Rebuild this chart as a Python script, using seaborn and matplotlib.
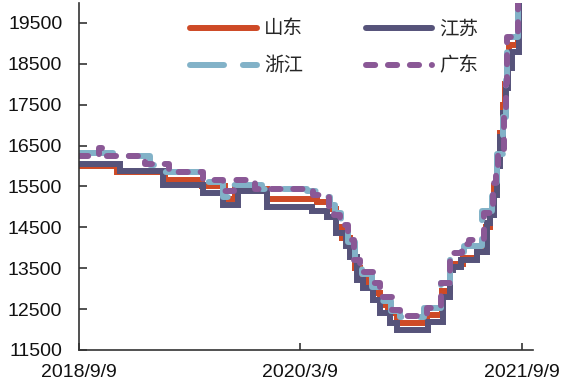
import matplotlib
matplotlib.use("Agg")
import matplotlib.pyplot as plt
import pandas as pd
import seaborn as sns

# ---- data (step breakpoints: value holds from date until next date) ----
sd_dates = ["2018-09-09", "2018-12-12", "2019-04-10", "2019-07-10", "2019-09-05", "2019-10-01",
            "2019-12-18", "2020-04-20", "2020-05-22", "2020-06-05", "2020-06-20", "2020-07-10",
            "2020-07-23", "2020-08-05", "2020-08-20", "2020-09-05", "2020-09-23", "2020-10-12",
            "2020-11-04", "2021-01-17", "2021-02-23", "2021-03-15", "2021-04-16", "2021-05-21",
            "2021-06-05", "2021-06-12", "2021-06-22", "2021-07-01", "2021-07-09", "2021-07-17",
            "2021-07-24", "2021-07-29", "2021-08-03", "2021-08-08", "2021-08-30"]
sd_vals = [16000, 15850, 15650, 15500, 15200, 15450,
           15200, 15130, 14950, 14500, 14250, 13900,
           13500, 13350, 13150, 12900, 12600, 12400,
           12150, 12350, 12950, 13600, 13750, 13900,
           14100, 14500, 14900, 15500, 16200, 16800,
           17500, 18000, 18500, 18950, 20400]

js_dates = ["2018-09-09", "2018-12-20", "2019-04-05", "2019-07-13", "2019-08-31", "2019-10-08",
            "2019-12-18", "2020-04-07", "2020-05-15", "2020-06-05", "2020-07-01", "2020-07-10",
            "2020-07-28", "2020-08-12", "2020-09-05", "2020-09-23", "2020-10-17", "2020-11-04",
            "2021-01-19", "2021-02-26", "2021-03-15", "2021-03-22", "2021-04-12", "2021-05-21",
            "2021-06-14", "2021-06-22", "2021-07-02", "2021-07-09", "2021-07-17", "2021-07-24",
            "2021-07-30", "2021-08-06", "2021-08-14", "2021-09-02"]
js_vals = [16050, 15870, 15530, 15340, 15050, 15380,
           15010, 14890, 14760, 14360, 14050, 13780,
           13210, 13010, 12720, 12400, 12160, 11990,
           12180, 12800, 13450, 13530, 13700, 13900,
           14600, 14800, 15300, 16000, 16700, 17300,
           17900, 18400, 18800, 20400]

zj_dates = ["2018-09-09", "2018-12-12", "2019-03-04", "2019-04-10", "2019-07-13", "2019-08-31",
            "2019-09-25", "2019-12-06", "2020-03-26", "2020-04-30", "2020-05-22", "2020-06-03",
            "2020-06-18", "2020-07-06", "2020-07-23", "2020-08-08", "2020-09-03", "2020-09-25",
            "2020-10-20", "2020-11-10", "2021-01-10", "2021-02-20", "2021-03-15", "2021-04-18",
            "2021-06-03", "2021-06-26", "2021-07-08", "2021-07-24", "2021-07-30", "2021-08-03",
            "2021-08-30"]
zj_vals = [16320, 16250, 16020, 15850, 15620, 15250,
           15530, 15450, 15380, 15250, 15050, 14850,
           14500, 14150, 13650, 13350, 13050, 12700,
           12450, 12300, 12520, 13150, 13900, 14050,
           14900, 15600, 16300, 17200, 18100, 19150,
           20400]

gd_dates = ["2018-09-09", "2018-10-29", "2018-11-05", "2019-02-20", "2019-04-20", "2019-07-13",
            "2019-08-31", "2019-09-28", "2019-10-30", "2019-11-18", "2020-04-10", "2020-05-20",
            "2020-06-01", "2020-06-15", "2020-07-06", "2020-07-20", "2020-08-05", "2020-09-05",
            "2020-09-23", "2020-10-22", "2020-11-12", "2021-01-17", "2021-02-20", "2021-03-15",
            "2021-04-14", "2021-05-01", "2021-06-06", "2021-06-28", "2021-07-06", "2021-07-12",
            "2021-07-26", "2021-07-31", "2021-08-03", "2021-08-30"]
gd_vals = [16250, 16450, 16250, 16050, 15850, 15650,
           15400, 15650, 15620, 15450, 15290, 15000,
           14800, 14560, 14190, 13700, 13400, 13140,
           12800, 12480, 12330, 12530, 13140, 13870,
           14100, 14200, 14850, 15580, 15830, 16390,
           17200, 18030, 19150, 20400]

series_names = ["山东", "江苏", "浙江", "广东"]
y_ticks = [11500, 12500, 13500, 14500, 15500, 16500, 17500, 18500, 19500]
x_tick_dates = ["2018-09-09", "2020-03-09", "2021-09-09"]
x_tick_labels = ["2018/9/9", "2020/3/9", "2021/9/9"]

frames = []
for name, d, v in zip(series_names, [sd_dates, js_dates, zj_dates, gd_dates],
                      [sd_vals, js_vals, zj_vals, gd_vals]):
    frames.append(pd.DataFrame({"date": pd.to_datetime(d), "value": v, "省份": name}))
df = pd.concat(frames, ignore_index=True)

# ---- style ----
sns.set_theme(style="white")
plt.rcParams["font.family"] = ["Liberation Sans", "Noto Sans CJK SC", "DejaVu Sans"]
plt.rcParams["lines.scale_dashes"] = False
plt.rcParams["axes.unicode_minus"] = False

palette = {"山东": "#CE4A26", "江苏": "#56537A", "浙江": "#82B2C8", "广东": "#8A5896"}
dashes = {"山东": "", "江苏": "", "浙江": (24.5, 13.6), "广东": (6.6, 9.2)}

fig = plt.figure(figsize=(5.61, 3.87), dpi=100)
ax = fig.add_axes([79 / 561, 1 - 350 / 387, 454 / 561, 347.5 / 387])

sns.lineplot(data=df, x="date", y="value", hue="省份", style="省份",
             hue_order=series_names, style_order=series_names,
             palette=palette, dashes=dashes, drawstyle="steps-post",
             estimator=None, linewidth=4.3, ax=ax, legend=True)

for ln in ax.lines:
    ln.set_dash_capstyle("round")
    ln.set_solid_capstyle("round")
    ln.set_solid_joinstyle("miter")

ax.set_ylim(11500, 20000)
ax.set_xlim(pd.Timestamp("2018-09-09"), pd.Timestamp("2021-10-06"))
ax.set_yticks(y_ticks)
ax.set_yticklabels([str(t) for t in y_ticks])
ax.set_xticks(pd.to_datetime(x_tick_dates))
ax.set_xticklabels(x_tick_labels)
ax.set_xlabel("")
ax.set_ylabel("")

for side in ["top", "right"]:
    ax.spines[side].set_visible(False)
for side in ["left", "bottom"]:
    ax.spines[side].set_color("#333333")
    ax.spines[side].set_linewidth(1.2)
ax.tick_params(axis="both", direction="in", colors="#333333", labelcolor="#111111",
               labelsize=14, width=1.2)
ax.tick_params(axis="y", length=6, pad=12, left=True)
ax.tick_params(axis="x", length=5, pad=10, bottom=True)

# legend: rows 山东/江苏, 浙江/广东
handles, labels = ax.get_legend_handles_labels()
hmap = dict(zip(labels, handles))
order = ["山东", "浙江", "江苏", "广东"]
leg = ax.legend([hmap[k] for k in order], order, ncol=2, frameon=False,
                loc="upper left", bbox_to_anchor=(0.207, 0.998),
                fontsize=14, handlelength=3.4, handletextpad=0.4,
                columnspacing=3.2, labelspacing=0.95, borderpad=0.4)
for lh in leg.get_lines():
    lh.set_linewidth(4.3)
    lh.set_dash_capstyle("round")
    lh.set_solid_capstyle("round")

fig.savefig("out.png", dpi=100)
